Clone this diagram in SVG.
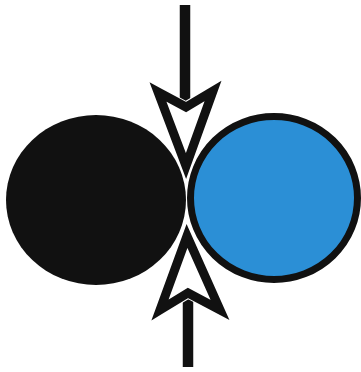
<svg xmlns="http://www.w3.org/2000/svg" width="361" height="372" viewBox="0 0 361 372">
<style>
.halo{fill:#fff;stroke:#fff;stroke-width:11;stroke-linejoin:miter}
.head{fill:#fff;stroke:#111;stroke-width:9;stroke-linejoin:miter}
.shaft{stroke:#111;stroke-width:10.5;fill:none}
</style>
<rect width="361" height="372" fill="#fff"/>
<g id="black-ball"><ellipse cx="96" cy="200" rx="90" ry="85" fill="#111"/></g>
<g id="blue-ball"><ellipse cx="274" cy="198" rx="83.5" ry="81.5" fill="#2b8fd6" stroke="#111" stroke-width="7"/></g>
<g id="connectors">
<g id="top-arrow">
<line class="shaft" x1="185" y1="5" x2="185" y2="104"/>
<polygon class="halo" points="158,92 186,107 213,91 186,166"/>
<polygon class="head" points="158,92 186,107 213,91 186,166"/>
</g>
<g id="bottom-arrow">
<line class="shaft" x1="188" y1="367" x2="188" y2="296"/>
<polygon class="halo" points="160,310 188,293 220,310 187,236"/>
<polygon class="head" points="160,310 188,293 220,310 187,236"/>
</g>
</g>
</svg>
